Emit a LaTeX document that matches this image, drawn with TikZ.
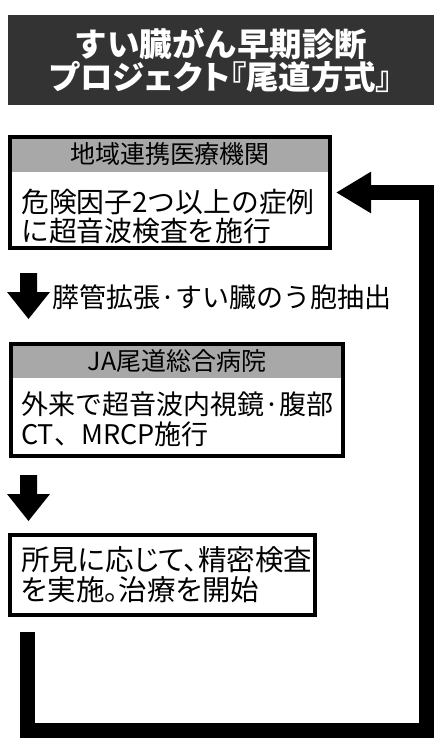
\documentclass[tikz,border=0pt]{standalone}
\usepackage{fontspec}
\setmainfont{Noto Sans CJK JP}
\newfontfamily\paltfont[RawFeature=+palt]{Noto Sans CJK JP}
\usetikzlibrary{arrows.meta}
\definecolor{titlegray}{HTML}{333333}
\definecolor{hdrgray}{HTML}{A8A8A8}
\tikzstyle{frame}=[draw,line width=4pt,inner sep=0pt]
\tikzstyle{header}=[fill=hdrgray,inner sep=0pt,font=\fontsize{25pt}{27pt}\selectfont]
\tikzstyle{bodytext}=[align=left,inner sep=0pt,font=\fontsize{27.8pt}{29pt}\selectfont]
\tikzstyle{loopline}=[draw,line width=15pt,-{Triangle[length=35pt,width=39pt]}]

\begin{document}
\begin{tikzpicture}[x=1pt,y=-1pt]
    \useasboundingbox (0,0) rectangle (446,750);

    \node[fill=titlegray, text=white, minimum width=426pt, minimum height=90pt, inner sep=0pt, align=center,
          font=\bfseries\fontsize{32.5pt}{33pt}\selectfont] (title) at (221,60) {すい臓がん早期診断\\{\paltfont\bfseries プロジェクト『尾道方式』}};

    \foreach \x/\y/\w/\h/\name/\txt in {170/154.5/320/35/hdr1/地域連携医療機関, 177/361/332/34/hdr2/JA尾道総合病院}
        \node[header, minimum width=\w pt, minimum height=\h pt] (\name) at (\x,\y) {\txt};

    \node[bodytext, anchor=west] (txt1) at (21,216) {危険因子2つ以上の症例\\に超音波検査を施行};
    \node[bodytext, font=\fontsize{27pt}{30pt}\selectfont, anchor=west] (txt2) at (21,419) {外来で超音波内視鏡·腹部\\CT、MRCP施行};
    \node[bodytext, font=\paltfont\fontsize{28.5pt}{30pt}\selectfont, anchor=west] (txt3) at (21,575) {所見に応じて、精密検査\\を実施。治療を開始};

    \foreach \x/\y/\w/\h/\name in {170/192.5/320/111/box1, 177/400/332/112/box2, 162.5/575/305/80/box3}
        \node[frame, minimum width=\w pt, minimum height=\h pt] (\name) at (\x,\y) {};

    % block arrows down the left side
    \foreach \y/\name in {273/down1, 475/down2} {
        \coordinate (\name) at (28.5,\y);
        \fill (\name) ++(-8.5,0) -- ++(0,19) -- ++(-13,0) -- (28.5,\y+46) -- ++(21.5,-27) -- ++(-13,0) -- ++(0,-19) -- cycle;
    }
    \node[bodytext, font=\fontsize{27pt}{28pt}\selectfont, anchor=west] (lbl1) at (52,297) {膵管拡張·すい臓のう胞抽出};

    % loop back to the first box
    \coordinate (loopstart) at (27.5,632);
    \coordinate (loopcorner) at (426.5,730.5);
    \draw[loopline, shorten >=4pt] (loopstart) |- (loopcorner) |- (box1.east);

\end{tikzpicture}
\end{document}
